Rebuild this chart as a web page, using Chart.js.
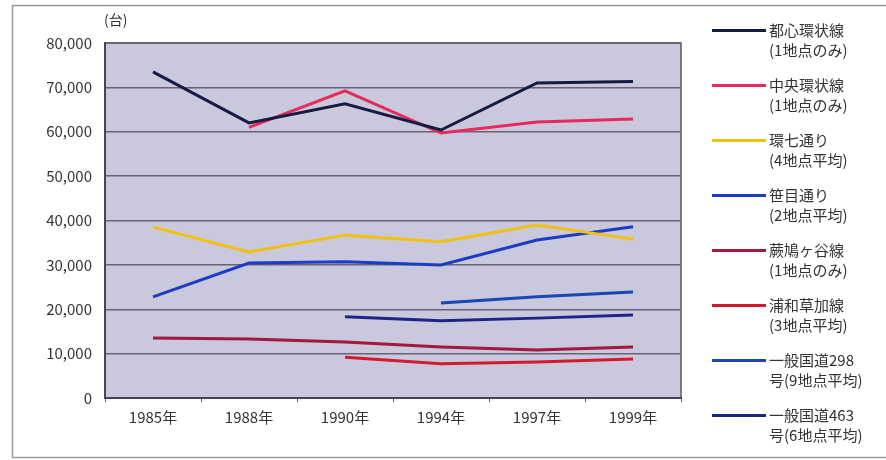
<!DOCTYPE html>
<html>
<head>
<meta charset="utf-8">
<script src="https://cdn.jsdelivr.net/npm/chart.js@4"></script>
<style>
  body { margin: 0; background: #fff; }
  #wrap { position: relative; width: 886px; height: 460px; }
  #legend { position: absolute; left: 712px; top: 0; font-family: "Noto Sans CJK JP"; font-size: 15px; color: #333; }
  .item { position: absolute; left: 0; width: 174px; }
  .swatch { position: absolute; left: 0; top: -1px; width: 54px; height: 3px; }
  .txt { position: absolute; left: 57px; top: -10px; line-height: 20px; white-space: nowrap; }
</style>
</head>
<body>
<div id="wrap">
  <canvas id="lineChart" width="886" height="460"></canvas>
  <div id="legend"></div>
</div>
<script>
const years = ['1985年', '1988年', '1990年', '1994年', '1997年', '1999年'];
const roadNames = ['都心環状線', '中央環状線', '環七通り', '笹目通り', '蕨鳩ヶ谷線', '浦和草加線', '一般国道298', '一般国道463'];
const roadNotes = ['(1地点のみ)', '(1地点のみ)', '(4地点平均)', '(2地点平均)', '(1地点のみ)', '(3地点平均)', '号(9地点平均)', '号(6地点平均)'];
const roadColors = ['#161b42', '#e62a5c', '#f2c10f', '#1c3cc4', '#a3193a', '#d41a30', '#1b45b8', '#1e2488'];

const toshin   = [73500, 62000, 66300, 60400, 71000, 71300];
const chuo     = [null, 61000, 69200, 59700, 62200, 62900];
const kan7     = [38500, 32900, 36700, 35200, 39000, 35800];
const sasame   = [22800, 30400, 30700, 30000, 35600, 38600];
const warabi   = [13500, 13300, 12600, 11500, 10800, 11500];
const urawa    = [null, null, 9200, 7700, 8100, 8800];
const route298 = [null, null, null, 21400, 22800, 23900];
const route463 = [null, null, 18300, 17400, 18000, 18700];

const seriesValues = [toshin, chuo, kan7, sasame, warabi, urawa, route298, route463];

// plot background, outer frame and unit label
const backdrop = {
  id: 'backdrop',
  beforeDraw(chart) {
    const { ctx, chartArea: a } = chart;
    ctx.save();
    ctx.fillStyle = '#fff';
    ctx.fillRect(0, 0, chart.width, chart.height);
    ctx.strokeStyle = '#9a9a9a';
    ctx.lineWidth = 1.5;
    ctx.strokeRect(12.5, 5.5, 890, 452);
    ctx.fillStyle = '#c9c8dc';
    ctx.fillRect(a.left, a.top, a.right - a.left, a.bottom - a.top);
    ctx.strokeStyle = '#5a5266';
    ctx.lineWidth = 1.5;
    ctx.strokeRect(a.left, a.top, a.right - a.left, a.bottom - a.top);
    ctx.fillStyle = '#333';
    ctx.font = '14px "Noto Sans CJK JP"';
    ctx.textBaseline = 'middle';
    ctx.fillText('(台)', 104, 20);
    ctx.restore();
  }
};

new Chart(document.getElementById('lineChart'), {
  type: 'line',
  data: {
    labels: years,
    datasets: seriesValues.map((vals, i) => ({
      label: roadNames[i],
      data: vals,
      borderColor: roadColors[i],
      backgroundColor: roadColors[i],
      borderWidth: 3,
      pointRadius: 0,
      tension: 0
    }))
  },
  options: {
    responsive: false,
    animation: false,
    layout: { padding: { top: 43, right: 205, left: 0, bottom: 0 } },
    plugins: { legend: { display: false }, tooltip: { enabled: false } },
    scales: {
      x: {
        offset: true,
        afterFit(scale) { scale.height = 62; },
        grid: { offset: true, drawOnChartArea: false, tickLength: 4, color: '#5a5266' },
        border: { color: '#4a4258', width: 2 },
        ticks: { color: '#333', padding: 6, font: { family: '"Noto Sans CJK JP"', size: 15 } }
      },
      y: {
        min: 0,
        max: 80000,
        afterFit(scale) { scale.width = 105; },
        grid: { color: '#6a6276', lineWidth: 1.5, drawTicks: false },
        border: { color: '#4a4258', width: 2 },
        ticks: {
          stepSize: 10000,
          padding: 13,
          color: '#333',
          font: { family: '"Noto Sans CJK JP"', size: 15 },
          callback: v => v.toLocaleString('en-US')
        }
      }
    }
  },
  plugins: [backdrop]
});

// two-line legend built from the same series names and colours
const legend = document.getElementById('legend');
roadNames.forEach((name, i) => {
  const item = document.createElement('div');
  item.className = 'item';
  item.style.top = (30 + i * 55) + 'px';
  item.innerHTML = '<div class="swatch" style="background:' + roadColors[i] + '"></div>' +
    '<div class="txt">' + name + '<br>' + roadNotes[i] + '</div>';
  legend.appendChild(item);
});
</script>
</body>
</html>
